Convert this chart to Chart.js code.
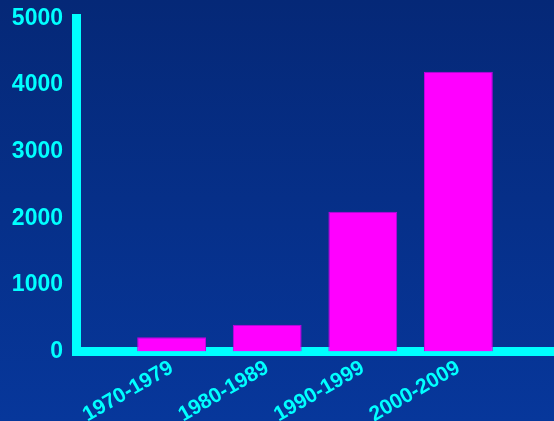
<!DOCTYPE html>
<html>
<head>
<meta charset="utf-8">
<script src="https://cdn.jsdelivr.net/npm/chart.js@4/dist/chart.umd.min.js"></script>
<style>
  html, body { margin: 0; padding: 0; }
  body {
    width: 554px; height: 421px; overflow: hidden;
    background: linear-gradient(to bottom, #052877, #07379b);
  }
  #wrap { position: relative; width: 554px; height: 421px; }
</style>
</head>
<body>
<div id="wrap"><canvas id="grafico"></canvas></div>
<script>
// Decades and counts per decade
const periodos = ['1970-1979', '1980-1989', '1990-1999', '2000-2009'];
const totais = [215, 400, 2100, 4200];
const ticksY = [0, 1000, 2000, 3000, 4000, 5000];

const ciano = '#00FFFF';
const magenta = '#FF00FF';

// empty slot on each side so the bars sit away from the axes
const rotulos = [''].concat(periodos, ['']);
const valores = [null].concat(totais, [null]);

const familia = "'Liberation Sans', Arial, sans-serif";

new Chart(document.getElementById('grafico').getContext('2d'), {
    type: 'bar',
    data: {
        labels: rotulos,
        datasets: [{
            data: valores,
            backgroundColor: magenta,
            borderColor: '#C000E0',
            borderWidth: 1,
            borderSkipped: 'bottom'
        }]
    },
    options: {
        responsive: true,
        maintainAspectRatio: false,
        animation: false,
        layout: { padding: { top: 18.5, left: 10, right: 0, bottom: 0 } },
        plugins: {
            legend: { display: false },
            tooltip: { enabled: false }
        },
        scales: {
            x: {
                offset: false,
                z: 1,
                grid: { display: false, drawTicks: false },
                border: { color: ciano, width: 9 },
                afterFit: escala => {
                    escala.height = 69.5;
                    escala.paddingLeft = 0;
                    escala.paddingRight = 0;
                },
                ticks: {
                    color: ciano,
                    font: { family: familia, size: 21, weight: 'bold' },
                    padding: 4,
                    minRotation: 30,
                    maxRotation: 30,
                    autoSkip: false
                }
            },
            y: {
                min: 0,
                max: 5000,
                z: 1,
                afterBuildTicks: escala => {
                    escala.ticks = ticksY.map(v => ({ value: v }));
                },
                afterFit: escala => {
                    escala.width = 66;
                    escala.paddingTop = 0;
                    escala.paddingBottom = 0;
                },
                grid: { display: false, drawTicks: false },
                border: { color: ciano, width: 9 },
                ticks: {
                    color: ciano,
                    font: { family: familia, size: 23, weight: 'bold' },
                    padding: 13,
                    callback: v => String(v)
                }
            }
        }
    }
});
</script>
</body>
</html>
